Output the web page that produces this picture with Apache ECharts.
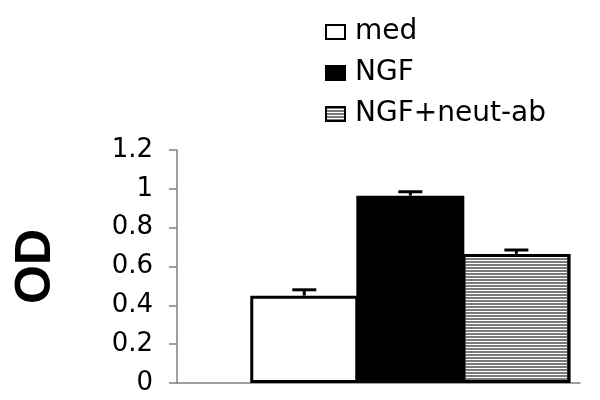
<!DOCTYPE html>
<html>
<head>
<meta charset="utf-8">
<script src="https://cdn.jsdelivr.net/npm/echarts@6/dist/echarts.min.js"></script>
<style>html,body{margin:0;padding:0;background:#fff}#c{width:600px;height:400px}</style>
</head>
<body>
<div id="c"></div>
<script>
// Data
const categories = ['med', 'NGF', 'NGF+neut-ab'];
const odValues = [0.45, 0.965, 0.665];
const odErrors = [0.03, 0.02, 0.02];
const yTicks = [0, 0.2, 0.4, 0.6, 0.8, 1, 1.2];

const chart = echarts.init(document.getElementById('c'), null, {renderer: 'canvas'});
const FONT = 'DejaVu Sans';

const barStyles = [
  {color: '#ffffff', borderColor: '#000', borderWidth: 3},
  {color: '#000000', borderColor: '#000', borderWidth: 3},
  {color: '#ffffff', borderColor: '#000', borderWidth: 3,
   decal: {symbol: 'rect', symbolSize: 1, dashArrayX: [[1, 0]], dashArrayY: [2, 1], rotation: 0, color: '#7a7a7a'}}
];

const barSeries = categories.map((name, i) => ({
  name: name,
  type: 'bar',
  barWidth: 108,
  barGap: '-100%',
  data: [[i + 1, odValues[i]]],
  itemStyle: barStyles[i],
  emphasis: {disabled: true},
  z: 2
}));

const errSeries = {
  type: 'custom',
  data: categories.map((c, i) => [i + 1, odValues[i], odErrors[i]]),
  encode: {x: 0, y: 1},
  z: 3,
  silent: true,
  renderItem: function (params, api) {
    const x = api.value(0), y = api.value(1), e = api.value(2);
    const p0 = api.coord([x, y]);
    const p1 = api.coord([x, y + e]);
    const hw = 12;
    return {
      type: 'group',
      children: [
        {type: 'line', shape: {x1: p0[0], y1: p0[1], x2: p1[0], y2: p1[1]}, style: {stroke: '#000', lineWidth: 3}},
        {type: 'line', shape: {x1: p1[0] - hw, y1: p1[1], x2: p1[0] + hw, y2: p1[1]}, style: {stroke: '#000', lineWidth: 3}}
      ]
    };
  }
};

chart.setOption({
  animation: false,
  backgroundColor: '#fff',
  grid: {left: 177, right: 20, top: 150, bottom: 17, containLabel: false, outerBoundsMode: 'none'},
  legend: {
    orient: 'vertical',
    left: 320,
    top: 13,
    itemWidth: 19,
    itemHeight: 14,
    itemGap: 13,
    icon: 'rect',
    selectedMode: false,
    data: categories,
    textStyle: {fontFamily: FONT, fontSize: 28, color: '#000', padding: [0, 0, 0, 5]}
  },
  xAxis: {
    type: 'value',
    min: -0.2,
    max: 3.6,
    axisLine: {show: true, onZero: false, lineStyle: {color: '#808080', width: 1.5}},
    axisTick: {show: false},
    axisLabel: {show: false},
    splitLine: {show: false}
  },
  yAxis: {
    type: 'value',
    min: yTicks[0],
    max: yTicks[yTicks.length - 1],
    interval: 0.2,
    name: 'OD',
    nameLocation: 'middle',
    nameGap: 116,
    nameRotate: 90,
    nameTextStyle: {fontFamily: 'Liberation Sans', fontWeight: 'bold', fontSize: 50, color: '#000'},
    axisLine: {show: true, onZero: false, lineStyle: {color: '#808080', width: 1.5}},
    axisTick: {show: true, length: 8, inside: false, lineStyle: {color: '#808080', width: 1.5}},
    axisLabel: {fontFamily: FONT, fontSize: 26, color: '#000', margin: 24},
    splitLine: {show: false}
  },
  series: barSeries.concat([errSeries])
});
</script>
</body>
</html>
